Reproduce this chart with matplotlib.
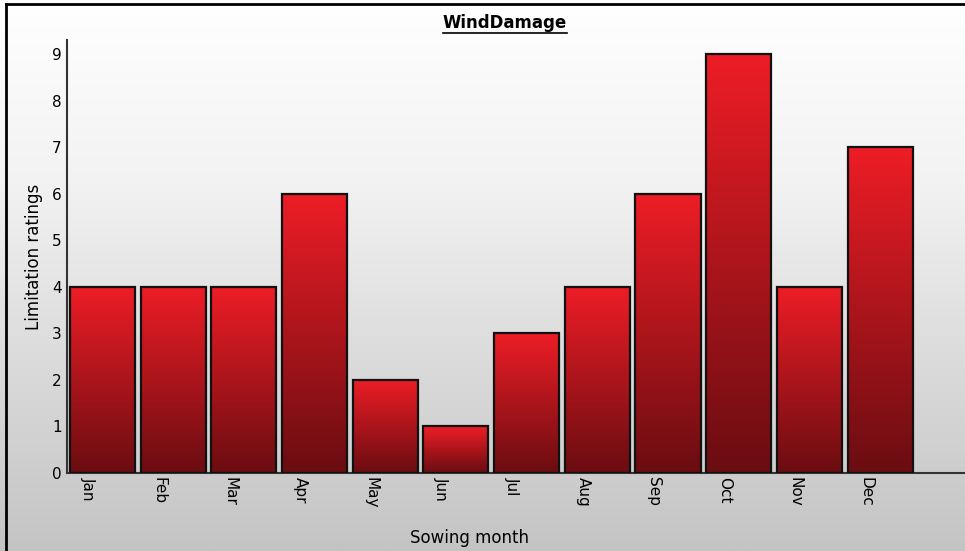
import matplotlib
matplotlib.use("Agg")
import matplotlib.pyplot as plt
import numpy as np
from matplotlib.colors import LinearSegmentedColormap
from matplotlib.lines import Line2D

# data
months = ["Jan", "Feb", "Mar", "Apr", "May", "Jun", "Jul", "Aug", "Sep", "Oct", "Nov", "Dec"]
ratings = [4, 4, 4, 6, 2, 1, 3, 4, 6, 9, 4, 7]
title = "WindDamage"

plt.rcParams["font.family"] = ["DejaVu Sans"]

fig = plt.figure(figsize=(9.65, 5.51), dpi=100)

# background gradient, white at the top to light grey at the bottom
bg = fig.add_axes([0, 0, 1, 1], zorder=-10)
grad = np.linspace(0, 1, 256).reshape(-1, 1)
bg_cmap = LinearSegmentedColormap.from_list("bg", ["#ffffff", "#f2f2f2", "#dadada", "#c4c4c4"])
bg.imshow(grad, aspect="auto", cmap=bg_cmap, extent=[0, 1, 0, 1], origin="upper")
bg.set_axis_off()

# frame: only a top and a left line, slightly inset
x_l, y_t = 6 / 965, 1 - 4 / 551
fig.lines.append(Line2D([x_l, 1], [y_t, y_t], transform=fig.transFigure, color="black", linewidth=2))
fig.lines.append(Line2D([x_l, x_l], [0, y_t], transform=fig.transFigure, color="black", linewidth=2))

ax = fig.add_axes([67 / 965, 1 - 473 / 551, (965 - 67) / 965, (473 - 40) / 551])
ax.patch.set_alpha(0)

x = np.arange(len(months))
bar_cmap = LinearSegmentedColormap.from_list("bar", ["#ee1d26", "#6a0d11"])
bars = ax.bar(x, ratings, width=0.92, facecolor="none", edgecolor="#111111", linewidth=1.6, zorder=3)
for b in bars:
    x0, y0 = b.get_x(), b.get_y()
    w, h = b.get_width(), b.get_height()
    im = ax.imshow(grad, aspect="auto", cmap=bar_cmap, extent=[x0, x0 + w, y0, y0 + h],
                   origin="upper", zorder=2)
    im.set_clip_path(b)

ax.set_xlim(-0.5, 12.2)
ax.set_ylim(0, 9.3)
ax.set_yticks(range(0, 10))
ax.set_xticks(x - 0.2)
ax.set_xticklabels(months, rotation=270, fontsize=11)
ax.tick_params(axis="y", length=0, labelsize=11, pad=4)
ax.tick_params(axis="x", length=0, pad=3)
for s in ["top", "right"]:
    ax.spines[s].set_visible(False)
ax.spines["left"].set_color("#333333")
ax.spines["bottom"].set_color("#333333")
ax.spines["left"].set_linewidth(1.5)
ax.spines["bottom"].set_linewidth(1.5)

ax.set_ylabel("Limitation ratings", fontsize=12, labelpad=6)
fig.text(470 / 965, 1 - 538 / 551, "Sowing month", ha="center", va="center", fontsize=12)

t = fig.text(505 / 965, 1 - 23 / 551, title, ha="center", va="center", fontsize=12, fontweight="bold")
fig.canvas.draw()
bb = t.get_window_extent().transformed(fig.transFigure.inverted())
fig.lines.append(Line2D([bb.x0, bb.x1], [bb.y0 - 0.002, bb.y0 - 0.002], transform=fig.transFigure,
                        color="black", linewidth=1.2))

fig.savefig("out.png", dpi=100)
